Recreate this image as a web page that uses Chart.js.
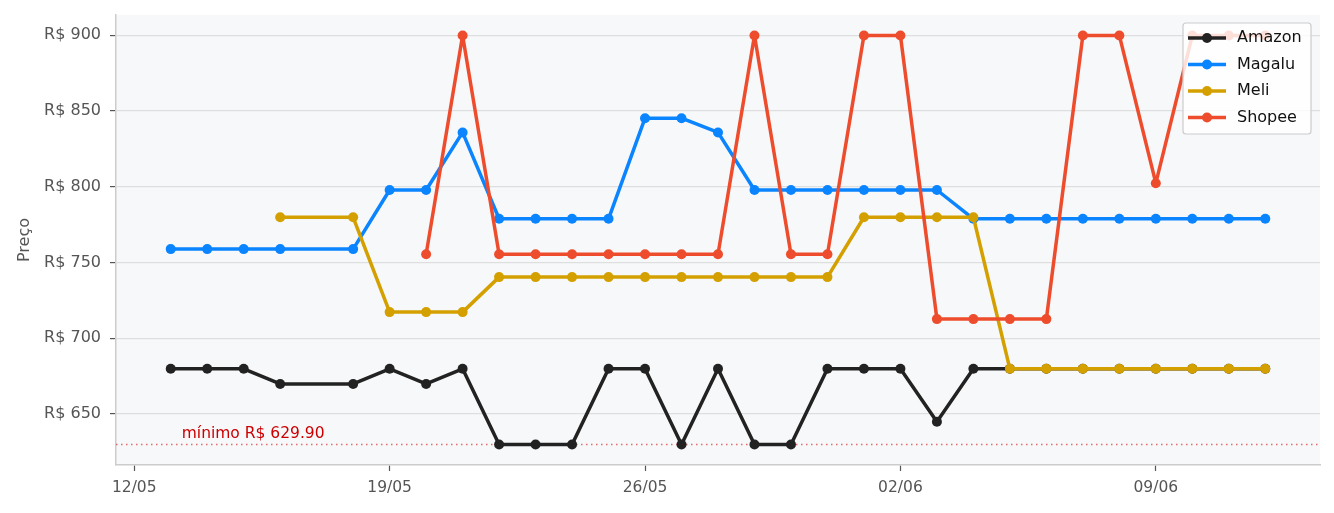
<!DOCTYPE html>
<html>
<head>
<meta charset="utf-8">
<script src="https://cdn.jsdelivr.net/npm/chart.js@4"></script>
<style>
html, body { margin: 0; padding: 0; background: #fff; }
#wrap { width: 1334px; height: 513px; }
</style>
</head>
<body>
<div id="wrap"><canvas id="grafico"></canvas></div>
<script>
// datas de coleta (17/05 sem dados)
const datas = ['13/05','14/05','15/05','16/05','18/05','19/05','20/05','21/05','22/05','23/05',
  '24/05','25/05','26/05','27/05','28/05','29/05','30/05','31/05','01/06','02/06',
  '03/06','04/06','05/06','06/06','07/06','08/06','09/06','10/06','11/06','12/06'];

const amazon = [679.9,679.9,679.9,669.9,669.9,679.9,669.9,679.9,629.9,629.9,
  629.9,679.9,679.9,629.9,679.9,629.9,629.9,679.9,679.9,679.9,
  644.9,679.9,679.9,679.9,679.9,679.9,679.9,679.9,679.9,679.9];
const magalu = [758.9,758.9,758.9,758.9,758.9,797.9,797.9,835.9,778.9,778.9,
  778.9,778.9,845.3,845.3,835.9,797.9,797.9,797.9,797.9,797.9,
  797.9,778.9,778.9,778.9,778.9,778.9,778.9,778.9,778.9,778.9];
const meli = [null,null,null,779.9,779.9,717.3,717.3,717.3,740.4,740.4,
  740.4,740.4,740.4,740.4,740.4,740.4,740.4,740.4,779.9,779.9,
  779.9,779.9,679.9,679.9,679.9,679.9,679.9,679.9,679.9,679.9];
const shopee = [null,null,null,null,null,null,755.5,899.9,755.5,755.5,
  755.5,755.5,755.5,755.5,755.5,899.9,755.5,755.5,899.9,899.9,
  712.7,712.7,712.7,712.7,899.9,899.9,802.4,899.9,899.9,899.9];

const lojas = ['Amazon', 'Magalu', 'Meli', 'Shopee'];
const cores = ['#222222', '#0a84ff', '#d4a000', '#ee4d2d'];
const ticksX = ['12/05', '19/05', '26/05', '02/06', '09/06'];
const ticksY = [650, 700, 750, 800, 850, 900];

// dia -> número de dias desde 13/05
function diaN(s) {
  const [d, m] = s.split('/').map(Number);
  return Math.round((Date.UTC(2024, m - 1, d) - Date.UTC(2024, 4, 13)) / 864e5);
}

const series = [amazon, magalu, meli, shopee];
const todos = series.flat().filter(v => v !== null);
const minimo = Math.min(...todos);
const maximo = Math.max(...todos);
const margemY = (maximo - minimo) * 0.05;
const xs = datas.map(diaN);
const margemX = (xs[xs.length - 1] - xs[0]) * 0.05;

const fundo = {
  id: 'fundo',
  beforeDraw(chart) {
    const { ctx, chartArea: a } = chart;
    ctx.save();
    ctx.fillStyle = '#ffffff';
    ctx.fillRect(0, 0, chart.width, chart.height);
    ctx.fillStyle = '#f7f8fa';
    ctx.fillRect(a.left, a.top, a.right - a.left, a.bottom - a.top);
    ctx.restore();
  }
};

const linhaMinimo = {
  id: 'linhaMinimo',
  beforeDatasetsDraw(chart) {
    const { ctx, chartArea: a, scales } = chart;
    const y = scales.y.getPixelForValue(minimo);
    ctx.save();
    ctx.strokeStyle = 'rgba(220,60,60,0.75)';
    ctx.lineWidth = 1.5;
    ctx.setLineDash([1.5, 3.5]);
    ctx.beginPath();
    ctx.moveTo(a.left, y);
    ctx.lineTo(a.right, y);
    ctx.stroke();
    ctx.setLineDash([]);
    ctx.fillStyle = '#cc0000';
    ctx.font = '15.5px "DejaVu Sans"';
    ctx.textBaseline = 'alphabetic';
    ctx.fillText('mínimo R$ ' + minimo.toFixed(2), scales.x.getPixelForValue(xs[0]) + 11, y - 7);
    ctx.restore();
  }
};

const legenda = {
  id: 'legenda',
  afterDatasetsDraw(chart) {
    const { ctx, chartArea: a } = chart;
    const w = 128, h = 111;
    const x0 = a.right - 9 - w, y0 = a.top + 8;
    ctx.save();
    ctx.fillStyle = 'rgba(255,255,255,0.82)';
    ctx.strokeStyle = '#cccccc';
    ctx.lineWidth = 1.2;
    ctx.beginPath();
    ctx.roundRect(x0, y0, w, h, 3);
    ctx.fill();
    ctx.stroke();
    ctx.font = '16px "DejaVu Sans"';
    ctx.textBaseline = 'middle';
    lojas.forEach((nome, i) => {
      const yy = y0 + 15 + i * 26.5;
      ctx.strokeStyle = cores[i];
      ctx.lineWidth = 3.5;
      ctx.beginPath();
      ctx.moveTo(x0 + 5, yy);
      ctx.lineTo(x0 + 43, yy);
      ctx.stroke();
      ctx.fillStyle = cores[i];
      ctx.beginPath();
      ctx.arc(x0 + 24, yy, 5, 0, Math.PI * 2);
      ctx.fill();
      ctx.fillStyle = '#111';
      ctx.fillText(nome, x0 + 54, yy);
    });
    ctx.restore();
  }
};

new Chart(document.getElementById('grafico'), {
  type: 'line',
  data: {
    datasets: lojas.map((nome, i) => ({
      label: nome,
      data: series[i].map((v, j) => ({ x: xs[j], y: v })),
      borderColor: cores[i],
      backgroundColor: cores[i],
      pointBackgroundColor: cores[i],
      pointBorderWidth: 0,
      pointRadius: 5,
      borderWidth: 3.5,
      borderJoinStyle: 'round',
      borderCapStyle: 'round',
      tension: 0,
      spanGaps: false,
      order: lojas.length - i
    }))
  },
  options: {
    responsive: true,
    maintainAspectRatio: false,
    animation: false,
    layout: { padding: { top: 15, right: 14, left: 0, bottom: 0 } },
    plugins: {
      legend: { display: false },
      tooltip: { enabled: false }
    },
    scales: {
      x: {
        type: 'linear',
        min: xs[0] - margemX,
        max: xs[xs.length - 1] + margemX,
        afterBuildTicks(s) { s.ticks = ticksX.map(t => ({ value: diaN(t) })); },
        afterFit(s) { s.height = 48; },
        ticks: {
          font: { family: 'DejaVu Sans', size: 15.5 }, color: '#555', padding: 8, maxRotation: 0, autoSkip: false,
          callback: v => ticksX.find(t => diaN(t) === v) || ''
        },
        grid: { drawOnChartArea: false, tickLength: 6, tickColor: '#555', tickWidth: 1.2 },
        border: { color: '#cccccc', width: 1.5 }
      },
      y: {
        min: minimo - margemY,
        max: maximo + margemY,
        afterBuildTicks(s) { s.ticks = ticksY.map(v => ({ value: v })); },
        afterFit(s) { s.width = 116; s.paddingTop = 0; s.paddingBottom = 0; },
        ticks: { font: { family: 'DejaVu Sans', size: 16 }, color: '#555', padding: 9, callback: v => 'R$ ' + v },
        grid: { color: '#dedede', lineWidth: 1.2, tickLength: 6, tickColor: '#555', tickWidth: 1.2 },
        border: { color: '#cccccc', width: 1.5 },
        title: { display: true, text: 'Preço', color: '#555', font: { family: 'DejaVu Sans', size: 16 }, padding: { top: 15, bottom: 0 } }
      }
    }
  },
  plugins: [fundo, linhaMinimo, legenda]
});
</script>
</body>
</html>
